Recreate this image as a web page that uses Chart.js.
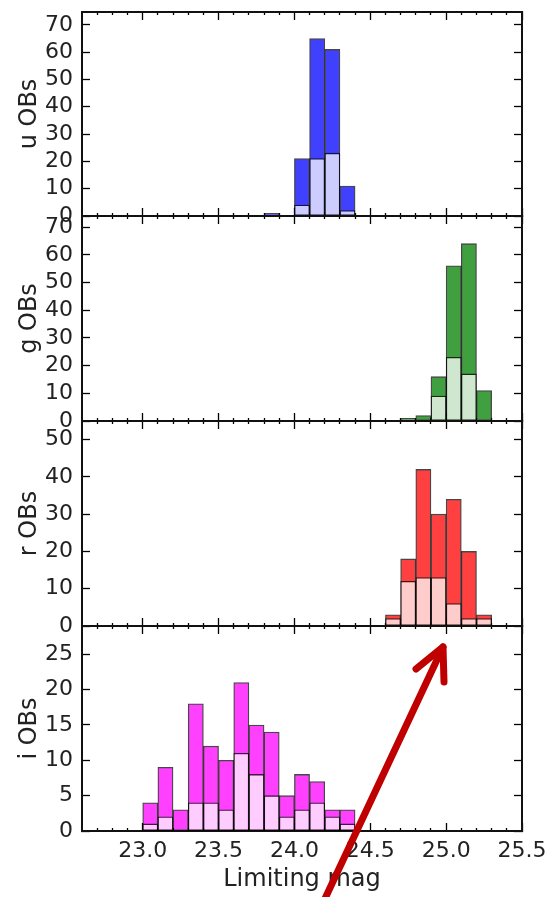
<!DOCTYPE html>
<html>
<head>
<meta charset="utf-8">
<title>Limiting mag per band</title>
<script src="https://cdn.jsdelivr.net/npm/chart.js@4.4.1/dist/chart.umd.min.js"></script>
<style>
  body { margin: 0; background: #fff; overflow: hidden; }
  #wrap { position: relative; width: 548px; height: 897px; }
  #wrap canvas { position: absolute; left: 0; top: 0; }
</style>
</head>
<body>
<div id="wrap">
  <canvas id="panel-u" width="548" height="897"></canvas>
  <canvas id="panel-g" width="548" height="897"></canvas>
  <canvas id="panel-r" width="548" height="897"></canvas>
  <canvas id="panel-i" width="548" height="897"></canvas>
</div>
<script>
'use strict';

// ******** DATA *******

// limiting magnitude axis, histogram bins are 0.1 mag wide (stored by bin centre)
let xMin = 22.6;
let xMax = 25.5;
let xTicks = [23.0, 23.5, 24.0, 24.5, 25.0, 25.5];
let xMinorTicks = [22.7, 22.8, 22.9, 23.1, 23.2, 23.3, 23.4, 23.6, 23.7, 23.8, 23.9,
  24.1, 24.2, 24.3, 24.4, 24.6, 24.7, 24.8, 24.9, 25.1, 25.2, 25.3, 25.4];

// u band
let uBins = [23.85, 24.05, 24.15, 24.25, 24.35];
let uAll = [1, 21, 65, 61, 11];
let uSub = [0, 4, 21, 23, 2];
let uTicks = [0, 10, 20, 30, 40, 50, 60, 70];
let uMax = 74.7;

// g band
let gBins = [24.75, 24.85, 24.95, 25.05, 25.15, 25.25];
let gAll = [1, 2, 16, 56, 64, 11];
let gSub = [0, 0, 9, 23, 17, 0];
let gTicks = [0, 10, 20, 30, 40, 50, 60, 70];
let gMax = 74;

// r band
let rBins = [24.65, 24.75, 24.85, 24.95, 25.05, 25.15, 25.25];
let rAll = [3, 18, 42, 30, 34, 20, 3];
let rSub = [2, 12, 13, 13, 6, 2, 2];
let rTicks = [0, 10, 20, 30, 40, 50];
let rMax = 55;

// i band
let iBins = [23.05, 23.15, 23.25, 23.35, 23.45, 23.55, 23.65, 23.75, 23.85, 23.95,
  24.05, 24.15, 24.25, 24.35];
let iAll = [4, 9, 3, 18, 12, 10, 21, 15, 14, 5, 8, 7, 3, 3];
let iSub = [1, 2, 0, 4, 4, 3, 11, 8, 5, 2, 3, 4, 2, 1];
let iTicks = [0, 5, 10, 15, 20, 25];
let iMax = 29;

// ******** LAYOUT *******

let pageH = 897;
let plotLeft = 82;
let plotRight = 522;
let panelTop = [12, 216, 421, 626];
let panelBottom = [216, 421, 626, 831];

Chart.defaults.font.family = '"DejaVu Sans", sans-serif';
Chart.defaults.font.size = 22;
Chart.defaults.color = '#222';

// red arrow drawn over the bottom panel
let arrowPlugin = {
  id: 'arrow',
  afterDraw(chart) {
    let c = chart.ctx;
    c.save();
    c.strokeStyle = '#c00000';
    c.lineWidth = 7;
    c.lineCap = 'round';
    c.lineJoin = 'round';
    c.beginPath();
    c.moveTo(322, 905);
    c.lineTo(443, 647);
    c.stroke();
    c.beginPath();
    c.moveTo(416, 669);
    c.lineTo(443, 647);
    c.lineTo(444, 682);
    c.stroke();
    c.restore();
  }
};

function toTicks(list) {
  return list.map(v => ({ value: v }));
}

function zeroPadding(s) {
  s.paddingTop = 0;
  s.paddingBottom = 0;
  s.paddingLeft = 0;
  s.paddingRight = 0;
}

// one tick-only x axis (major or minor, top or bottom)
function xAxis(position, ticks, len, weight, opts) {
  let axis = {
    type: 'linear',
    position: position,
    min: xMin,
    max: xMax,
    offset: false,
    weight: weight,
    afterBuildTicks: s => { s.ticks = toTicks(ticks); },
    afterFit: s => { s.height = 0; zeroPadding(s); },
    grid: { offset: false, drawOnChartArea: false, tickLength: len, tickWidth: 1.3, tickColor: '#000' },
    border: { display: false },
    ticks: { display: false, autoSkip: false }
  };
  return Object.assign(axis, opts || {});
}

function makePanel(id, k, bins, all, sub, dark, light, yTicks, yMax, yLabel, isLast, plugins) {
  let ctx = document.getElementById(id);

  let bottomAxis = xAxis('bottom', xTicks, -8, 0, {
    afterFit: s => { s.height = pageH - panelBottom[k]; zeroPadding(s); },
    border: { color: '#111', width: 2 },
    ticks: {
      display: isLast, autoSkip: false, maxRotation: 0, padding: 15,
      callback: v => v.toFixed(1)
    },
    title: {
      display: isLast, text: 'Limiting mag', font: { size: 24 },
      padding: { top: 0, bottom: 3 }
    }
  });

  let chartObject = {
    type: 'bar',
    data: {
      datasets: [{
        label: yLabel + ' subset',
        data: bins.map((b, i) => ({ x: b, y: sub[i] })),
        backgroundColor: light,
        borderColor: 'rgba(0,0,0,0.72)',
        borderWidth: 1.3,
        borderSkipped: false,
        grouped: false,
        barPercentage: 1,
        categoryPercentage: 1,
        order: 1
      },
      {
        label: yLabel + ' all',
        data: bins.map((b, i) => ({ x: b, y: all[i] })),
        backgroundColor: dark,
        borderColor: 'rgba(0,0,0,0.72)',
        borderWidth: 1.3,
        borderSkipped: false,
        grouped: false,
        barPercentage: 1,
        categoryPercentage: 1,
        order: 2
      }]
    },
    options: {
      responsive: false,
      animation: false,
      events: [],
      layout: { padding: { top: panelTop[k], left: 0, right: 548 - plotRight, bottom: 0 } },
      plugins: { legend: { display: false }, tooltip: { enabled: false } },
      scales: {
        xMinor: xAxis('bottom', xMinorTicks, -3, -1),
        x: bottomAxis,
        xTop: xAxis('top', xTicks, -8, 0, {
          border: { color: '#111', width: 2 }
        }),
        xTopMinor: xAxis('top', xMinorTicks, -3, -1),
        y: {
          type: 'linear',
          position: 'left',
          min: 0,
          max: yMax,
          afterBuildTicks: s => { s.ticks = toTicks(yTicks); },
          afterFit: s => { s.width = plotLeft; zeroPadding(s); },
          grid: { drawOnChartArea: false, tickLength: -8, tickWidth: 1.3, tickColor: '#000' },
          border: { color: '#111', width: 2 },
          ticks: { autoSkip: false, padding: 17 },
          title: { display: true, text: yLabel, font: { size: 24 }, padding: { top: 15, bottom: 0 } }
        },
        yRight: {
          type: 'linear',
          position: 'right',
          min: 0,
          max: yMax,
          afterBuildTicks: s => { s.ticks = toTicks(yTicks); },
          afterFit: s => { s.width = 0; zeroPadding(s); },
          grid: { drawOnChartArea: false, tickLength: -8, tickWidth: 1.3, tickColor: '#000' },
          border: { color: '#111', width: 2 },
          ticks: { display: false, autoSkip: false }
        }
      }
    },
    plugins: plugins || []
  };

  return new Chart(ctx, chartObject);
}

// ******** PANELS *******

makePanel('panel-u', 0, uBins, uAll, uSub, '#4040ff', '#ccccff', uTicks, uMax, 'u OBs', false);
makePanel('panel-g', 1, gBins, gAll, gSub, '#40a040', '#cfe6cf', gTicks, gMax, 'g OBs', false);
makePanel('panel-r', 2, rBins, rAll, rSub, '#ff4040', '#ffcccc', rTicks, rMax, 'r OBs', false);
makePanel('panel-i', 3, iBins, iAll, iSub, '#ff40ff', '#ffccff', iTicks, iMax, 'i OBs', true, [arrowPlugin]);
</script>
</body>
</html>
